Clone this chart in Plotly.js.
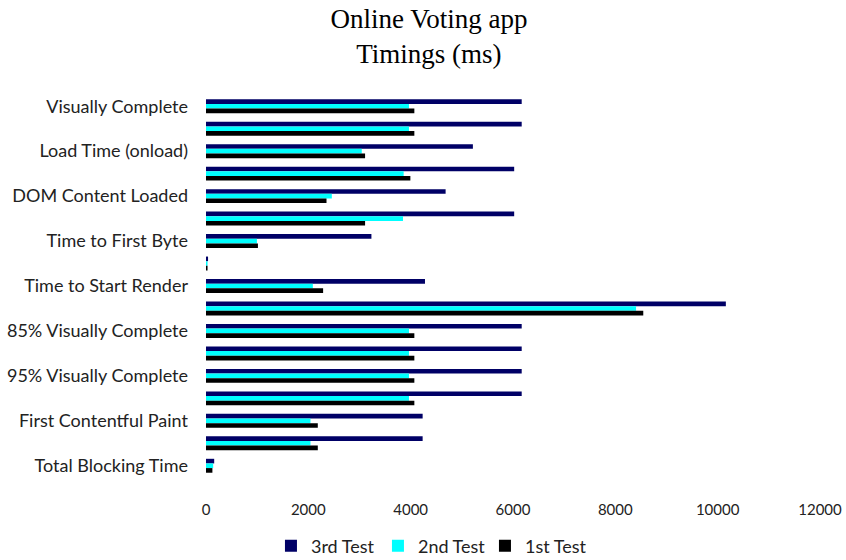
<!DOCTYPE html>
<html>
<head>
<meta charset="utf-8">
<script src="https://cdn.plot.ly/plotly-3.0.1.min.js"></script>
<style>html,body{margin:0;padding:0;background:#fff;}#chart{width:846px;height:560px;}</style>
</head>
<body>
<div id="chart"></div>
<script>
// Categories, top to bottom (every other label is hidden on the axis, as in the original)
const categories = [
  "Visually Complete", "Last Visual Change", "Load Time (onload)", "Fully Loaded",
  "DOM Content Loaded", "Document Complete", "Time to First Byte", "Cumulative Layout Shift",
  "Time to Start Render", "Largest Contentful Paint", "85% Visually Complete", "90% Visually Complete",
  "95% Visually Complete", "99% Visually Complete", "First Contentful Paint", "First Paint",
  "Total Blocking Time"
];
const shownLabels = [
  "Visually Complete", "Load Time (onload)", "DOM Content Loaded", "Time to First Byte",
  "Time to Start Render", "85% Visually Complete", "95% Visually Complete",
  "First Contentful Paint", "Total Blocking Time"
];
const test3 = [6170, 6170, 5216, 6023, 4683, 6023, 3233, 40, 4280, 10160, 6170, 6170, 6170, 6170, 4234, 4234, 160];
const test2 = [3967, 3967, 3044, 3863, 2459, 3850, 995, 30, 2088, 8405, 3967, 3967, 3967, 3967, 2042, 2042, 140];
const test1 = [4072, 4072, 3109, 3994, 2355, 3109, 1015, 30, 2289, 8546, 4072, 4072, 4072, 4072, 2185, 2185, 125];
const seriesNames = ["3rd Test", "2nd Test", "1st Test"];
const seriesColors = ["#000066", "#00FFFF", "#000000"];
const xTicks = [0, 2000, 4000, 6000, 8000, 10000, 12000];

const allValues = [test3, test2, test1];
const traces = allValues.map((vals, i) => ({
  type: "bar",
  orientation: "h",
  name: seriesNames[i],
  y: categories,
  x: vals,
  marker: {color: seriesColors[i], line: {width: 0}},
  hoverinfo: "x+y+name"
}));

const layout = {
  width: 846,
  height: 560,
  paper_bgcolor: "#ffffff",
  plot_bgcolor: "#ffffff",
  margin: {l: 206, r: 26, t: 95, b: 83},
  barmode: "group",
  bargap: 0.38,
  bargroupgap: 0,
  title: {
    text: "Online Voting app<br>Timings (ms)",
    font: {family: "Liberation Serif, Times New Roman, serif", size: 27, color: "#000"},
    x: 0.507, xref: "container", xanchor: "center",
    y: 0.95, yref: "container", yanchor: "top"
  },
  xaxis: {
    range: [0, 12000],
    tickvals: xTicks,
    ticktext: xTicks.map(String),
    showgrid: false,
    zeroline: false,
    showline: false,
    ticks: "",
    ticklabelstandoff: 22,
    tickfont: {family: "Lato, Open Sans, sans-serif", size: 15, color: "#222"}
  },
  yaxis: {
    type: "category",
    categoryorder: "array",
    categoryarray: categories,
    autorange: "reversed",
    tickvals: shownLabels,
    ticktext: shownLabels,
    showgrid: false,
    zeroline: false,
    showline: false,
    ticks: "",
    ticklabelstandoff: 17,
    tickfont: {family: "Lato, Open Sans, sans-serif", size: 18, color: "#222"}
  },
  showlegend: true,
  legend: {
    orientation: "h",
    x: 0.51, xref: "container", xanchor: "center",
    y: 0.025, yref: "container", yanchor: "middle",
    font: {family: "Lato, Open Sans, sans-serif", size: 18, color: "#222"},
    traceorder: "normal",
    itemwidth: 30,
    entrywidth: 62,
    entrywidthmode: "pixels"
  },
  font: {family: "Lato, Open Sans, sans-serif"}
};

Plotly.newPlot("chart", traces, layout, {displayModeBar: false, staticPlot: true});
</script>
</body>
</html>
